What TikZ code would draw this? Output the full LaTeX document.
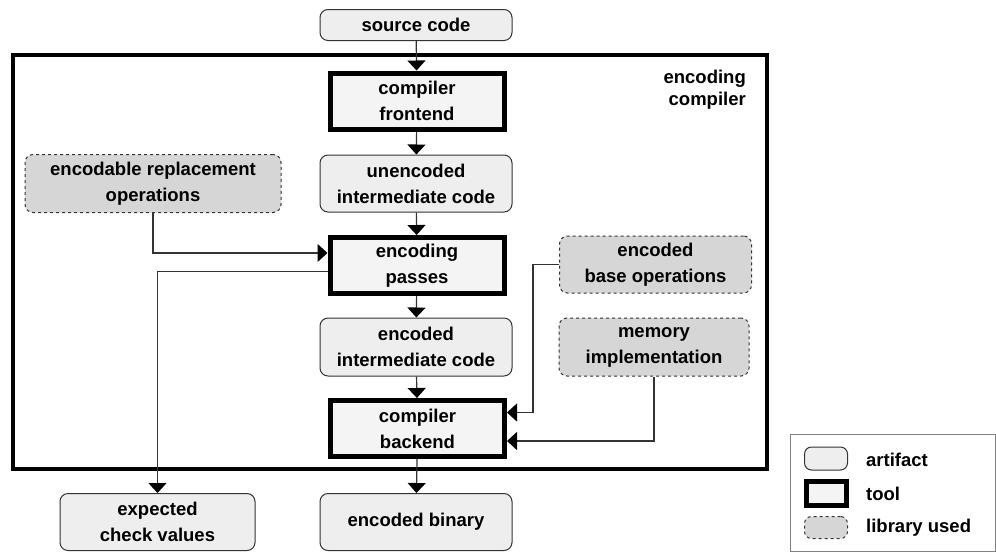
\documentclass[tikz,border=0pt]{standalone}
\usepackage{fontspec}
\setmainfont{Liberation Sans}
\usetikzlibrary{arrows.meta}
\definecolor{artfill}{HTML}{EEEEEE}
\definecolor{toolfill}{HTML}{F4F4F4}
\definecolor{libfill}{HTML}{D6D6D6}
\definecolor{edge}{HTML}{333333}
\tikzset{
  base/.style={font=\fontsize{18.5}{26}\selectfont\bfseries, align=center, inner sep=0pt},
  artifact/.style={base, draw=edge, line width=1pt, fill=artfill, rounded corners=8pt,
    minimum width=192pt, minimum height=58pt},
  tool/.style={base, draw=black, line width=5pt, fill=toolfill,
    minimum width=174pt, minimum height=56pt},
  library/.style={base, draw=edge, line width=1pt, dashed, fill=libfill, rounded corners=8pt,
    minimum width=192pt, minimum height=58pt},
  flow/.style={draw=edge, line width=1.2pt,
    -{Triangle[width=18pt,length=10pt,color=black]}},
  legtext/.style={font=\fontsize{18.5}{22}\selectfont\bfseries, anchor=west, inner sep=0pt},
}
\begin{document}
\begin{tikzpicture}[x=1pt,y=-1pt]
\useasboundingbox (0,0) rectangle (996,552);

% enclosing compiler frame
\draw[line width=4.5pt] (13,55) rectangle (767,469);
\node[base, font=\fontsize{18.5}{22}\selectfont\bfseries, align=right, anchor=east]
  (enccomp) at (746,90) {encoding\\compiler};

% main pipeline
\node[artifact, minimum height=31pt] (src) at (416,25) {source code};
\node[tool] (front) at (417,101) {compiler\\frontend};
\node[artifact, minimum height=57pt] (uic) at (416,183.5) {unencoded\\intermediate code};
\node[tool] (pass) at (417,265.5) {encoding\\passes};
\node[artifact] (eic) at (416,347) {encoded\\intermediate code};
\node[tool] (back) at (417.5,428.5) {compiler\\backend};
\node[artifact, minimum height=57pt] (bin) at (416,522) {encoded binary};
\node[artifact, minimum width=195pt, minimum height=57pt] (chk) at (157.5,522) {expected\\check values};

% libraries
\node[library, minimum width=256pt] (repl) at (153,183.5) {encodable replacement\\operations};
\node[library, minimum height=57pt] (bops) at (655.5,264.5) {encoded\\base operations};
\node[library, minimum width=190pt] (mem) at (654,347) {memory\\implementation};

% connectors
\draw[flow] (src) -- (front);
\draw[flow] (front) -- (uic);
\draw[flow] (uic) -- (pass);
\draw[flow] (pass) -- (eic);
\draw[flow] (eic) -- (back);
\draw[flow] (back) -- (bin);
\draw[flow] (repl.south) |- ([yshift=12.5pt]pass.west);
\draw[flow] ([yshift=-6pt]pass.west) -| (chk.north);
\coordinate (bx) at (533,0);
\draw[flow] (bops.west) -- (bops.west -| bx) |- ([yshift=16pt]back.east);
\draw[flow] (mem.south) |- ([yshift=-12.5pt]back.east);

% legend
\draw[draw=gray, line width=1pt] (790,434) rectangle (995,551);
\node[base, draw=edge, line width=1pt, fill=artfill, rounded corners=7pt,
  minimum width=43pt, minimum height=23pt] (lgart) at (826,458.5) {};
\node[base, draw=black, line width=5pt, fill=toolfill,
  minimum width=40pt, minimum height=24pt] (lgtool) at (826,493) {};
\node[base, draw=edge, line width=1pt, dashed, fill=libfill, rounded corners=7pt,
  minimum width=43pt, minimum height=22pt] (lglib) at (826,527.5) {};
\node[legtext] (lgartt) at (866,460) {artifact};
\node[legtext] (lgtoolt) at (866,494) {tool};
\node[legtext] (lglibt) at (866,528) {library used};
\end{tikzpicture}
\end{document}
